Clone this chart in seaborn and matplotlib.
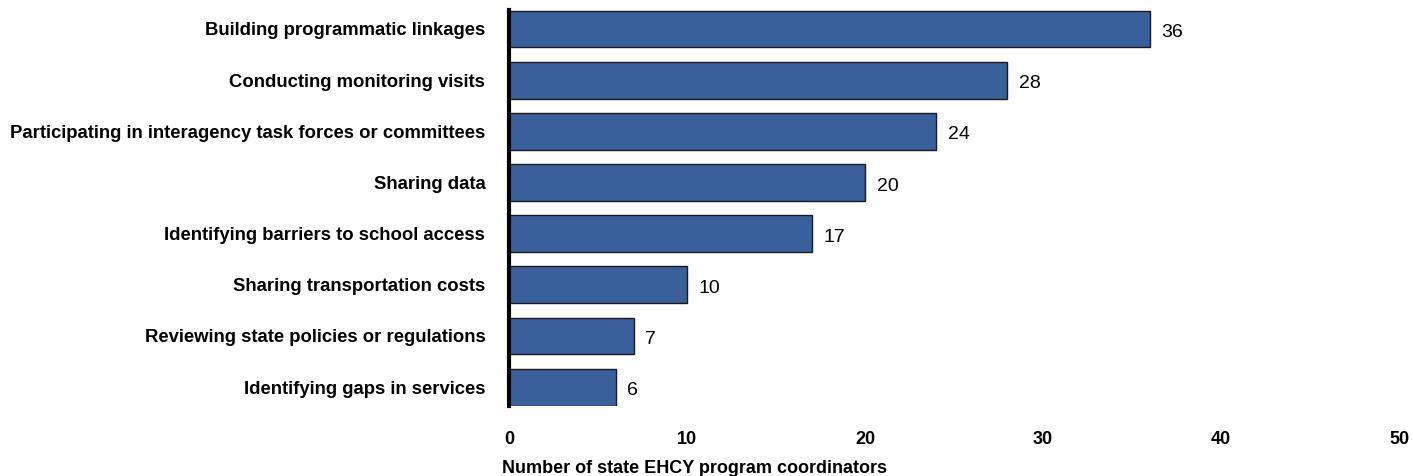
import matplotlib
matplotlib.use("Agg")
import matplotlib.pyplot as plt
import seaborn as sns
import pandas as pd

categories = [
    "Building programmatic linkages",
    "Conducting monitoring visits",
    "Participating in interagency task forces or committees",
    "Sharing data",
    "Identifying barriers to school access",
    "Sharing transportation costs",
    "Reviewing state policies or regulations",
    "Identifying gaps in services",
]
values = [36, 28, 24, 20, 17, 10, 7, 6]
x_ticks = [0, 10, 20, 30, 40, 50]
x_label = "Number of state EHCY program coordinators"

sns.set_theme(style="white")
plt.rcParams['font.family'] = ['Liberation Sans', 'DejaVu Sans']
plt.rcParams['text.color'] = 'black'
plt.rcParams['xtick.color'] = 'black'
plt.rcParams['ytick.color'] = 'black'
plt.rcParams['axes.labelcolor'] = 'black'

df = pd.DataFrame({"category": categories, "value": values})

fig = plt.figure(figsize=(14.13, 4.76), dpi=100)
ax = fig.add_axes([0.3602, 0.147, 0.630, 0.832])

sns.barplot(data=df, y="category", x="value", orient="h", color="#3A609C",
            saturation=1, width=0.72, edgecolor="#1a1a1a", linewidth=1, ax=ax)

for p, v in zip(ax.patches, values):
    ax.text(p.get_width() + 0.65, p.get_y() + p.get_height() / 2 + 0.07, f"{v}",
            va="center", ha="left", fontsize=14, color="black")

ax.set_xlim(0, 50)
ax.set_ylim(7.37, -0.37)
ax.set_xticks(x_ticks)
ax.set_xticklabels([str(t) for t in x_ticks], fontsize=13, fontweight="bold")
ax.tick_params(axis="x", length=0, pad=18)
ax.tick_params(axis="y", length=0, pad=17)
for lbl in ax.get_yticklabels():
    lbl.set_fontsize(13.3)
    lbl.set_fontweight("bold")
ax.set_ylabel("")
ax.set_xlabel(x_label, fontsize=13, fontweight="bold")
ax.xaxis.set_label_coords(-0.008, -0.137)
ax.xaxis.label.set_ha("left")

for s in ["top", "right", "bottom"]:
    ax.spines[s].set_visible(False)
ax.spines["left"].set_linewidth(3)
ax.spines["left"].set_color("black")

fig.savefig("out.png", dpi=100)
